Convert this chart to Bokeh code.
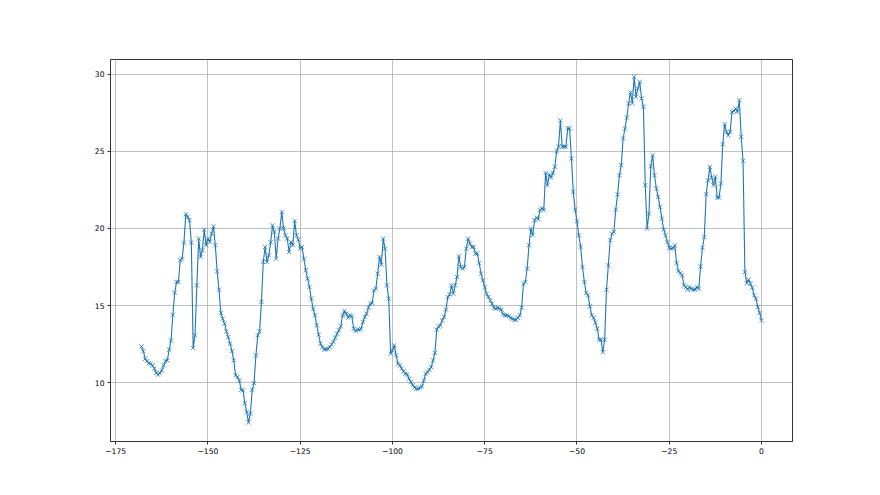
import numpy as np
from bokeh.plotting import figure
from bokeh.models import Range1d, FixedTicker, ColumnDataSource
from bokeh.embed import file_html
from bokeh.resources import INLINE

# x values: half-hour steps from -168 to 0
hours = np.arange(-168.0, 0.25, 0.5)

values = [
    12.35, 12.05, 11.55, 11.40, 11.27, 11.23, 11.12, 10.91, 10.63, 10.52,
    10.63, 10.80, 11.12, 11.40, 11.45, 12.14, 12.74, 14.41, 15.84, 16.53,
    16.53, 17.94, 18.04, 19.08, 20.92, 20.75, 20.53, 19.08, 12.25, 13.07,
    16.31, 19.34, 18.15, 18.58, 19.92, 18.91, 19.34, 19.13, 19.66, 20.14,
    18.91, 17.22, 16.03, 14.52, 14.15, 13.83, 13.33, 12.96, 12.53, 12.05,
    11.45, 10.48, 10.37, 10.15, 9.54, 9.50, 8.68, 8.10, 7.42, 7.99,
    9.54, 9.97, 11.77, 13.07, 13.33, 15.24, 17.83, 18.80, 17.83, 18.26,
    19.10, 20.20, 19.77, 18.04, 19.34, 19.99, 21.07, 19.99, 19.55, 19.34,
    18.47, 19.12, 18.91, 20.49, 19.55, 19.27, 18.69, 18.80, 18.04, 17.29,
    16.75, 16.21, 15.45, 14.80, 14.37, 13.72, 13.11, 12.53, 12.31, 12.16,
    12.16, 12.20, 12.31, 12.48, 12.64, 12.92, 13.18, 13.40, 13.66, 14.37,
    14.65, 14.48, 14.22, 14.37, 14.30, 13.50, 13.35, 13.44, 13.44, 13.50,
    13.93, 14.26, 14.48, 14.86, 15.12, 15.17, 15.99, 16.10, 17.07, 18.15,
    17.65, 19.34, 18.69, 16.31, 15.45, 11.88, 12.10, 12.42, 11.77, 11.23,
    11.12, 10.91, 10.73, 10.58, 10.54, 10.26, 10.04, 9.85, 9.70, 9.61,
    9.61, 9.68, 9.76, 10.15, 10.58, 10.69, 10.84, 11.01, 11.45, 11.92,
    13.44, 13.65, 13.72, 14.04, 14.26, 14.74, 15.55, 15.73, 16.31, 15.77,
    16.31, 16.85, 18.20, 17.50, 17.39, 17.50, 18.69, 19.34, 19.02, 18.80,
    18.80, 18.37, 18.37, 17.76, 17.07, 16.64, 16.20, 15.77, 15.56, 15.34,
    15.12, 14.86, 14.80, 14.86, 14.80, 14.73, 14.43, 14.37, 14.37, 14.32,
    14.21, 14.15, 14.08, 14.08, 14.21, 14.37, 14.86, 16.42, 16.53, 17.39,
    18.91, 19.99, 19.56, 20.53, 20.70, 20.60, 21.20, 21.30, 21.20, 23.60,
    22.80, 23.50, 23.30, 23.60, 24.00, 25.00, 25.30, 27.00, 25.30, 25.30,
    25.30, 26.50, 26.47, 24.53, 22.37, 21.22, 20.46, 19.55, 18.80, 17.50,
    16.53, 15.82, 15.66, 14.95, 14.37, 14.21, 13.89, 13.50, 12.79, 12.79,
    11.99, 12.79, 16.03, 17.61, 19.23, 19.66, 19.77, 21.22, 22.19, 23.45,
    24.10, 25.83, 26.47, 27.19, 28.10, 28.81, 28.12, 29.83, 28.53, 29.07,
    29.50, 28.42, 27.88, 22.80, 19.99, 20.96, 24.03, 24.75, 23.45, 22.59,
    22.05, 21.40, 20.64, 19.93, 19.55, 19.12, 18.75, 18.69, 18.73, 18.90,
    17.76, 17.24, 17.11, 16.96, 16.31, 16.20, 16.03, 16.20, 16.09, 16.03,
    16.03, 16.20, 16.09, 17.54, 18.75, 19.44, 22.21, 23.12, 23.99, 23.29,
    22.80, 23.34, 22.00, 22.00, 22.91, 25.46, 26.76, 26.26, 26.04, 26.26,
    27.55, 27.62, 27.77, 27.55, 28.31, 25.94, 24.38, 17.17, 16.46, 16.68,
    16.42, 16.16, 15.66, 15.44, 14.91, 14.52, 14.04,
]

x_ticks = [-175, -150, -125, -100, -75, -50, -25, 0]
y_ticks = [10, 15, 20, 25, 30]

src = ColumnDataSource(dict(x=hours, y=values))

p = figure(width=880, height=495, output_backend="svg", toolbar_location=None, tools="",
           x_range=Range1d(-176.4, 8.4), y_range=Range1d(6.19, 30.95),
           min_border_left=110, min_border_right=88, min_border_top=59, min_border_bottom=54)
p.background_fill_color = "white"
p.border_fill_color = "white"
p.outline_line_color = "black"
p.outline_line_width = 0.8

p.xaxis.ticker = FixedTicker(ticks=x_ticks)
p.yaxis.ticker = FixedTicker(ticks=y_ticks)
p.xaxis.major_label_overrides = {t: ("\u2212" + str(-t) if t < 0 else str(t)) for t in x_ticks}
p.yaxis.major_label_overrides = {t: str(t) for t in y_ticks}

for ax in (p.xaxis[0], p.yaxis[0]):
    ax.axis_line_color = None
    ax.major_tick_in = 0
    ax.major_tick_out = 3
    ax.major_tick_line_width = 0.8
    ax.major_tick_line_color = "black"
    ax.minor_tick_line_color = None
    ax.major_label_text_font = "DejaVu Sans"
    ax.major_label_text_font_size = "7.6px"
    ax.major_label_text_color = "black"
    ax.major_label_standoff = 3

for g in (p.xgrid[0], p.ygrid[0]):
    g.grid_line_color = "#b0b0b0"
    g.grid_line_width = 0.8

p.line("x", "y", source=src, line_color="#1f77b4", line_width=1.1)
p.scatter("x", "y", source=src, marker="x", size=6, line_color="#1f77b4", line_width=0.8)

open("out.html", "w").write(file_html(p, INLINE))
